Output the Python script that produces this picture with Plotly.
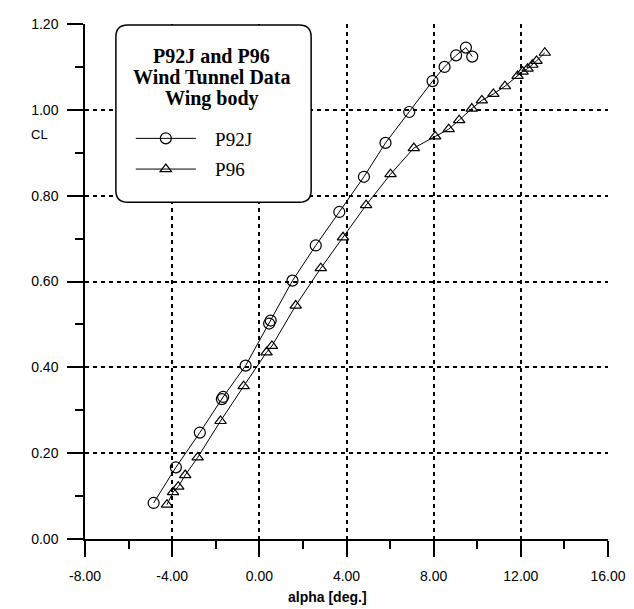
import plotly.graph_objects as go

# P92J wind tunnel data (alpha [deg], CL)
p92j_alpha = [-4.85, -3.83, -2.73, -1.72, -1.66, -0.63, 0.45, 0.52, 1.52, 2.59, 3.67,
              4.80, 5.79, 6.88, 7.95, 8.50, 9.03, 9.48, 9.77]
p92j_cl = [0.084, 0.167, 0.248, 0.326, 0.331, 0.404, 0.502, 0.509, 0.602, 0.684, 0.762,
           0.844, 0.923, 0.995, 1.067, 1.100, 1.127, 1.145, 1.124]

# P96 wind tunnel data
p96_alpha = [-4.24, -3.96, -3.72, -3.40, -2.83, -1.78, -0.72, 0.33, 0.58, 1.67, 2.82, 3.84,
             4.90, 6.02, 7.09, 8.07, 8.69, 9.17, 9.75, 10.21, 10.74, 11.27, 11.85, 12.08,
             12.31, 12.53, 12.72, 13.10]
p96_cl = [0.080, 0.109, 0.122, 0.149, 0.190, 0.275, 0.356, 0.435, 0.450, 0.544, 0.631, 0.703,
          0.778, 0.850, 0.911, 0.938, 0.955, 0.976, 1.003, 1.022, 1.037, 1.055, 1.079, 1.089,
          1.096, 1.105, 1.114, 1.133]

x_ticks = [-8, -4, 0, 4, 8, 12, 16]
x_tick_text = ["-8.00", "-4.00", "0.00", "4.00", "8.00", "12.00", "16.00"]
y_ticks = [0, 0.2, 0.4, 0.6, 0.8, 1.0, 1.2]
y_tick_text = ["0.00", "0.20", "0.40", "0.60", "0.80", "1.00", "1.20"]

series_names = ["P92J", "P96"]
legend_title = ["P92J and P96", "Wind Tunnel Data", "Wing body"]

# page body has an 8px margin: figure pixel = screen pixel - 8
OFF = 8
W, H = 626, 601
L, T = 85 - OFF, 16 - OFF
pw, ph = 525, 523
R, B = W - L - pw, H - T - ph


def px_x(s):  # screen x -> paper
    return (s - OFF - L) / pw


def px_y(s):  # screen y -> paper
    return (T + ph - (s - OFF)) / ph


GAP = "\u00a0" * 3

fig = go.Figure()
fig.add_trace(go.Scatter(
    x=p92j_alpha, y=p92j_cl, mode="lines+markers", name=GAP + series_names[0], legendgroup="a",
    line=dict(color="black", width=1),
    marker=dict(symbol="circle-open", size=11, color="black", line=dict(width=1.2)),
))
fig.add_trace(go.Scatter(
    x=p96_alpha, y=p96_cl, mode="lines+markers", name=GAP + series_names[1], legendgroup="b",
    line=dict(color="black", width=1),
    marker=dict(symbol="triangle-up-open", size=10, color="black", line=dict(width=1.2)),
))

axis_common = dict(
    showline=True, linecolor="black", linewidth=1.5, mirror=False,
    ticks="outside", ticklen=16, tickwidth=1.5, tickcolor="black",
    showgrid=True, gridcolor="black", gridwidth=1.5, griddash="4px,4px",
    zeroline=False, ticklabeloverflow="allow",
    tickfont=dict(family="Liberation Sans, Arial", size=14, color="black"),
)

fig.update_layout(
    width=W, height=H,
    margin=dict(l=L, r=R, t=T, b=B),
    paper_bgcolor="white", plot_bgcolor="white",
    xaxis=dict(range=[-8, 16], tickmode="array", tickvals=x_ticks, ticktext=x_tick_text,
               minor=dict(dtick=2, tick0=0, ticks="outside", ticklen=8, tickwidth=1.5,
                          tickcolor="black", showgrid=False),
               ticklabelstandoff=7, **axis_common),
    yaxis=dict(range=[0, 1.2], tickmode="array", tickvals=y_ticks, ticktext=y_tick_text,
               minor=dict(dtick=0.1, tick0=0, ticks="outside", ticklen=8, tickwidth=1.5,
                          tickcolor="black", showgrid=False),
               ticklabelstandoff=6, **axis_common),
    showlegend=True,
    legend=dict(
        x=px_x(131), y=px_y(113), xanchor="left", yanchor="top",
        bgcolor="rgba(0,0,0,0)", borderwidth=0, tracegroupgap=3,
        font=dict(family="Liberation Serif, Times New Roman", size=19, color="black"),
        itemwidth=60,
    ),
)


def conv_path(x0, x1, y0, y1, r):
    pts = lambda x, y: f"{px_x(x)},{px_y(y)}"
    return (f"M {pts(x0 + r, y0)} L {pts(x1 - r, y0)} Q {pts(x1, y0)} {pts(x1, y0 + r)} "
            f"L {pts(x1, y1 - r)} Q {pts(x1, y1)} {pts(x1 - r, y1)} L {pts(x0 + r, y1)} "
            f"Q {pts(x0, y1)} {pts(x0, y1 - r)} L {pts(x0, y0 + r)} Q {pts(x0, y0)} {pts(x0 + r, y0)} Z")


# legend frame (rounded box), screen coordinates
fig.add_shape(type="path", xref="paper", yref="paper", path=conv_path(116, 312, 17, 197, 12),
              line=dict(color="black", width=1.5), fillcolor="white", layer="above")

for i, line in enumerate(legend_title):
    fig.add_annotation(x=px_x(212), y=px_y(48 + 22 * i), xref="paper", yref="paper",
                       text=f"<b>{line}</b>", showarrow=False, xanchor="center", yanchor="middle",
                       font=dict(family="Liberation Serif, Times New Roman", size=20, color="black"))

fig.add_annotation(x=px_x(39), y=px_y(128), xref="paper", yref="paper", text="CL",
                   showarrow=False, xanchor="center", yanchor="middle",
                   font=dict(family="Liberation Sans, Arial", size=13, color="black"))
fig.add_annotation(x=px_x(328), y=px_y(598), xref="paper", yref="paper", text="<b>alpha [deg.]</b>",
                   showarrow=False, xanchor="center", yanchor="middle",
                   font=dict(family="Liberation Sans, Arial", size=14, color="black"))

fig.write_html("out.html")
